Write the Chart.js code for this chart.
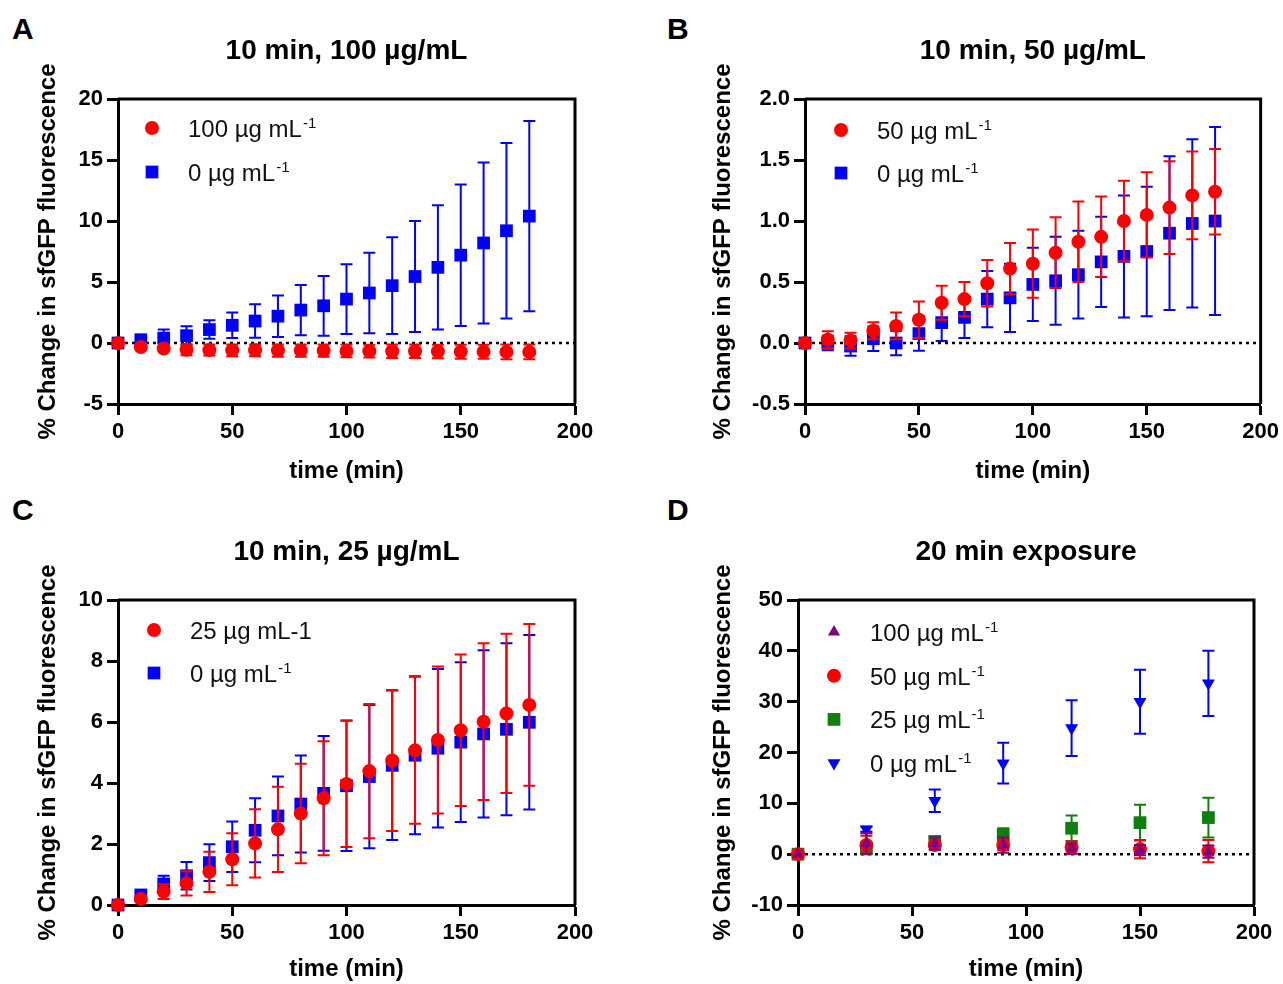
<!DOCTYPE html>
<html>
<head>
<meta charset="utf-8">
<title>sfGFP fluorescence change</title>
<script src="https://cdn.jsdelivr.net/npm/chart.js@4.4.1/dist/chart.umd.min.js"></script>
<style>
  body { margin: 0; background: #fff; width: 1283px; height: 984px; overflow: hidden; position: relative;
         font-family: Arial, "Liberation Sans", Helvetica, sans-serif; }
  canvas { position: absolute; }
  .tag { position: absolute; font-size: 30px; font-weight: bold; line-height: 1; color: #000; }
</style>
</head>
<body>
<div class="tag" style="left:12px;top:14px">A</div>
<div class="tag" style="left:667px;top:14px">B</div>
<div class="tag" style="left:12px;top:495px">C</div>
<div class="tag" style="left:667px;top:495px">D</div>

<canvas id="panelA" width="641" height="492" style="left:0;top:0"></canvas>
<canvas id="panelB" width="638" height="492" style="left:645px;top:0"></canvas>
<canvas id="panelC" width="641" height="492" style="left:0;top:492px"></canvas>
<canvas id="panelD" width="638" height="492" style="left:645px;top:492px"></canvas>

<script>
// time points (min)
const timeFine = [0, 10, 20, 30, 40, 50, 60, 70, 80, 90, 100, 110, 120, 130, 140, 150, 160, 170, 180];
const timeCoarse = [0, 30, 60, 90, 120, 150, 180];
const xTicks = [0, 50, 100, 150, 200];

// Panel A - 10 min, 100 ug/mL
const a100Mean = [0, -0.33, -0.45, -0.55, -0.58, -0.6, -0.6, -0.62, -0.62, -0.63, -0.65, -0.67, -0.68, -0.68, -0.7, -0.72, -0.72, -0.73, -0.73];
const a100Err = [0, 0.1, 0.15, 0.45, 0.45, 0.48, 0.48, 0.5, 0.5, 0.5, 0.52, 0.52, 0.55, 0.55, 0.55, 0.58, 0.58, 0.6, 0.6];
const a0Mean = [0, 0.27, 0.4, 0.6, 1.1, 1.45, 1.8, 2.2, 2.7, 3.05, 3.6, 4.1, 4.7, 5.45, 6.2, 7.2, 8.2, 9.2, 10.4];
const a0Err = [0, 0.2, 0.7, 0.77, 0.76, 1.05, 1.37, 1.7, 2.06, 2.45, 2.86, 3.3, 3.97, 4.55, 5.1, 5.8, 6.6, 7.2, 7.8];
const yTicksA = [-5, 0, 5, 10, 15, 20];

// Panel B - 10 min, 50 ug/mL
const b50Mean = [0, 0.027, 0.02, 0.1, 0.14, 0.19, 0.33, 0.36, 0.49, 0.61, 0.65, 0.74, 0.83, 0.87, 1.0, 1.05, 1.11, 1.21, 1.24];
const b50Err = [0, 0.07, 0.065, 0.07, 0.11, 0.15, 0.14, 0.14, 0.19, 0.21, 0.28, 0.29, 0.33, 0.33, 0.33, 0.35, 0.38, 0.36, 0.35];
const b0Mean = [0, 0, -0.025, 0.035, 0, 0.077, 0.167, 0.21, 0.36, 0.37, 0.48, 0.51, 0.56, 0.665, 0.71, 0.75, 0.9, 0.98, 1.0];
const b0Err = [0, 0.06, 0.08, 0.1, 0.1, 0.14, 0.15, 0.17, 0.23, 0.28, 0.3, 0.36, 0.36, 0.37, 0.5, 0.53, 0.63, 0.69, 0.77];
const yTicksB = [-0.5, 0, 0.5, 1.0, 1.5, 2.0];

// Panel C - 10 min, 25 ug/mL
const c25Mean = [0, 0.2, 0.44, 0.71, 1.09, 1.5, 2.02, 2.48, 3.0, 3.5, 3.97, 4.39, 4.74, 5.07, 5.41, 5.73, 6.01, 6.28, 6.56];
const c25Err = [0, 0.1, 0.24, 0.4, 0.66, 0.85, 1.12, 1.4, 1.63, 1.87, 2.07, 2.2, 2.31, 2.41, 2.41, 2.48, 2.57, 2.61, 2.65];
const c0Mean = [0, 0.33, 0.69, 0.96, 1.39, 1.91, 2.45, 2.92, 3.31, 3.66, 3.91, 4.21, 4.58, 4.91, 5.14, 5.34, 5.61, 5.76, 5.99];
const c0Err = [0, 0.1, 0.27, 0.45, 0.6, 0.83, 1.05, 1.29, 1.59, 1.88, 2.14, 2.35, 2.45, 2.59, 2.6, 2.62, 2.74, 2.82, 2.86];
const yTicksC = [0, 2, 4, 6, 8, 10];

// Panel D - 20 min exposure
const d100Mean = [0, 2.1, 2.1, 1.8, 1.1, 0.8, 0.5];
const d100Err = [0, 2.0, 1.2, 1.5, 1.0, 1.0, 1.2];
const d50Mean = [0, 1.8, 1.8, 1.8, 1.3, 1.0, 0.6];
const d50Err = [0, 1.8, 1.0, 1.0, 1.2, 1.8, 2.2];
const d25Mean = [0, 1.2, 2.5, 3.8, 5.1, 6.2, 7.2];
const d25Err = [0, 1.0, 1.0, 1.3, 2.5, 3.5, 3.9];
const d0Mean = [0, 4.9, 10.5, 17.9, 24.8, 30.0, 33.6];
const d0Err = [0, 0.5, 2.2, 4.0, 5.5, 6.3, 6.4];
const yTicksD = [-10, 0, 10, 20, 30, 40, 50];

const RED = '#ff0000';
const BLUE = '#0000ff';
const GREEN = '#0f800f';
const PURPLE = '#800080';

Chart.defaults.font.family = 'Arial, "Liberation Sans", Helvetica, sans-serif';
Chart.defaults.color = '#000';

// Build one scatter series with its error bars
function series(label, sup, xs, ys, errs, color, style, radius, rotation) {
    return {
        label: label,
        legendSup: sup,
        data: xs.map((x, i) => ({ x: x, y: ys[i] })),
        errorBars: errs,
        showLine: false,
        clip: false,
        pointStyle: style,
        pointRadius: radius,
        pointHoverRadius: radius,
        pointRotation: rotation || 0,
        pointBackgroundColor: color,
        pointBorderColor: color,
        pointBorderWidth: 0,
        backgroundColor: color,
        borderColor: color
    };
}

// Vertical error bars with caps, drawn under each dataset's markers
const errorBarPlugin = {
    id: 'errorBars',
    beforeDatasetDraw(chart, args) {
        const ds = chart.data.datasets[args.index];
        if (!ds.errorBars) return;
        const yScale = chart.scales.y;
        const ctx = chart.ctx;
        ctx.save();
        ctx.strokeStyle = ds.borderColor;
        ctx.lineWidth = 2;
        args.meta.data.forEach((pt, i) => {
            const err = ds.errorBars[i];
            if (!err) return;
            const v = ds.data[i].y;
            const top = yScale.getPixelForValue(v + err);
            const bot = yScale.getPixelForValue(v - err);
            ctx.beginPath();
            ctx.moveTo(pt.x, top);
            ctx.lineTo(pt.x, bot);
            ctx.moveTo(pt.x - 6, top);
            ctx.lineTo(pt.x + 6, top);
            ctx.moveTo(pt.x - 6, bot);
            ctx.lineTo(pt.x + 6, bot);
            ctx.stroke();
        });
        ctx.restore();
    }
};

// Box frame (top + right) and the dotted zero line
const framePlugin = {
    id: 'frame',
    beforeDatasetsDraw(chart, args, opts) {
        if (!opts.zeroLine) return;
        const { ctx, chartArea } = chart;
        const y0 = chart.scales.y.getPixelForValue(0);
        ctx.save();
        ctx.strokeStyle = '#000';
        ctx.lineWidth = 2.5;
        ctx.setLineDash([3, 4]);
        ctx.beginPath();
        ctx.moveTo(chartArea.left, y0);
        ctx.lineTo(chartArea.right, y0);
        ctx.stroke();
        ctx.restore();
    },
    afterDraw(chart) {
        const { ctx, chartArea } = chart;
        ctx.save();
        ctx.strokeStyle = '#000';
        ctx.lineWidth = 3;
        ctx.beginPath();
        ctx.moveTo(chartArea.left, chartArea.top);
        ctx.lineTo(chartArea.right, chartArea.top);
        ctx.lineTo(chartArea.right, chartArea.bottom);
        ctx.stroke();
        ctx.restore();
    }
};

// Legend with superscript units, inside the plot area
const inlineLegendPlugin = {
    id: 'inlineLegend',
    afterDraw(chart, args, opts) {
        const { ctx, chartArea } = chart;
        chart.data.datasets.forEach((ds, i) => {
            const mx = chartArea.left + opts.x;
            const my = chartArea.top + opts.y + i * opts.step;
            ctx.save();
            ctx.fillStyle = ds.pointBackgroundColor;
            if (Chart.helpers && Chart.helpers.drawPoint) {
                Chart.helpers.drawPoint(ctx, {
                    pointStyle: ds.pointStyle,
                    radius: ds.pointRadius,
                    rotation: ds.pointRotation,
                    borderWidth: 0
                }, mx, my);
            } else {
                ctx.beginPath();
                ctx.arc(mx, my, ds.pointRadius, 0, Math.PI * 2);
                ctx.fill();
            }
            ctx.fillStyle = '#111';
            ctx.textBaseline = 'alphabetic';
            ctx.textAlign = 'left';
            ctx.font = '24px ' + Chart.defaults.font.family;
            const tx = mx + 36;
            const ty = my + 9;
            ctx.fillText(ds.label, tx, ty);
            if (ds.legendSup) {
                const w = ctx.measureText(ds.label).width;
                ctx.font = '15px ' + Chart.defaults.font.family;
                ctx.fillText(ds.legendSup, tx + w + 1, ty - 9);
            }
            ctx.restore();
        });
    }
};

function makePanel(id, cfg) {
    const tickFont = { size: 22, weight: 'bold' };
    const titleFont = { size: 24, weight: 'bold' };
    return new Chart(document.getElementById(id), {
        type: 'scatter',
        data: { datasets: cfg.datasets },
        options: {
            responsive: false,
            animation: false,
            devicePixelRatio: 1,
            events: [],
            layout: { padding: { left: 0, right: cfg.padRight, top: 0, bottom: 0 } },
            plugins: {
                legend: { display: false },
                tooltip: { enabled: false },
                title: {
                    display: true,
                    text: cfg.title,
                    fullSize: false,
                    color: '#000',
                    font: { size: 28, weight: 'bold' },
                    padding: { top: cfg.titleTop, bottom: cfg.titleBottom }
                },
                frame: { zeroLine: cfg.zeroLine },
                inlineLegend: cfg.legend
            },
            scales: {
                x: {
                    type: 'linear',
                    min: xTicks[0],
                    max: xTicks[xTicks.length - 1],
                    afterBuildTicks: s => { s.ticks = xTicks.map(v => ({ value: v })); },
                    afterFit: s => { s.height = cfg.xHeight; },
                    ticks: { font: tickFont, color: '#000', padding: 4, maxRotation: 0 },
                    grid: { drawOnChartArea: false, tickLength: 11, tickWidth: 3, tickColor: '#000' },
                    border: { color: '#000', width: 3 },
                    title: { display: true, text: 'time (min)', font: titleFont, color: '#000',
                             padding: { top: 0, bottom: cfg.xTitleBottom } }
                },
                y: {
                    type: 'linear',
                    min: cfg.yTicks[0],
                    max: cfg.yTicks[cfg.yTicks.length - 1],
                    afterBuildTicks: s => { s.ticks = cfg.yTicks.map(v => ({ value: v })); },
                    afterFit: s => { s.width = cfg.yWidth; },
                    ticks: { font: tickFont, color: '#000', padding: 4,
                             callback: v => cfg.yFormat ? cfg.yFormat(v) : String(v) },
                    grid: { drawOnChartArea: false, tickLength: 11, tickWidth: 3, tickColor: '#000' },
                    border: { color: '#000', width: 3 },
                    title: { display: true, text: '% Change in sfGFP fluorescence', font: titleFont,
                             color: '#000', padding: { top: cfg.yTitleTop, bottom: 0 } }
                }
            }
        },
        plugins: [errorBarPlugin, framePlugin, inlineLegendPlugin]
    });
}

makePanel('panelA', {
    title: '10 min, 100 µg/mL',
    yTicks: yTicksA,
    yWidth: 118, padRight: 66, xHeight: 88,
    titleTop: 34.2, titleBottom: 31.2, xTitleBottom: 6.6, yTitleTop: 33.6,
    zeroLine: true,
    legend: { x: 34, y: 29, step: 44 },
    datasets: [
        series('100 µg mL', '-1', timeFine, a100Mean, a100Err, RED, 'circle', 7),
        series('0 µg mL', '-1', timeFine, a0Mean, a0Err, BLUE, 'rect', 9)
    ]
});

makePanel('panelB', {
    title: '10 min, 50 µg/mL',
    yTicks: yTicksB,
    yFormat: v => v.toFixed(1),
    yWidth: 160, padRight: 21, xHeight: 88,
    titleTop: 34.2, titleBottom: 31.2, xTitleBottom: 6.6, yTitleTop: 63.6,
    zeroLine: true,
    legend: { x: 36, y: 31, step: 43 },
    datasets: [
        series('50 µg mL', '-1', timeFine, b50Mean, b50Err, RED, 'circle', 7),
        series('0 µg mL', '-1', timeFine, b0Mean, b0Err, BLUE, 'rect', 9)
    ]
});

makePanel('panelC', {
    title: '10 min, 25 µg/mL',
    yTicks: yTicksC,
    yWidth: 118, padRight: 66, xHeight: 79,
    titleTop: 43.2, titleBottom: 31.2, xTitleBottom: 0, yTitleTop: 33.6,
    zeroLine: false,
    legend: { x: 36, y: 30, step: 43 },
    datasets: [
        series('25 µg mL-1', '', timeFine, c25Mean, c25Err, RED, 'circle', 7),
        series('0 µg mL', '-1', timeFine, c0Mean, c0Err, BLUE, 'rect', 9)
    ]
});

makePanel('panelD', {
    title: '20 min exposure',
    yTicks: yTicksD,
    yWidth: 153, padRight: 29, xHeight: 79,
    titleTop: 43.2, titleBottom: 31.2, xTitleBottom: 0, yTitleTop: 63.6,
    zeroLine: true,
    legend: { x: 36, y: 32, step: 43.7 },
    datasets: [
        series('100 µg mL', '-1', timeCoarse, d100Mean, d100Err, PURPLE, 'triangle', 7),
        series('50 µg mL', '-1', timeCoarse, d50Mean, d50Err, RED, 'circle', 7),
        series('25 µg mL', '-1', timeCoarse, d25Mean, d25Err, GREEN, 'rect', 9),
        series('0 µg mL', '-1', timeCoarse, d0Mean, d0Err, BLUE, 'triangle', 7.5, 180)
    ]
});
</script>
</body>
</html>
